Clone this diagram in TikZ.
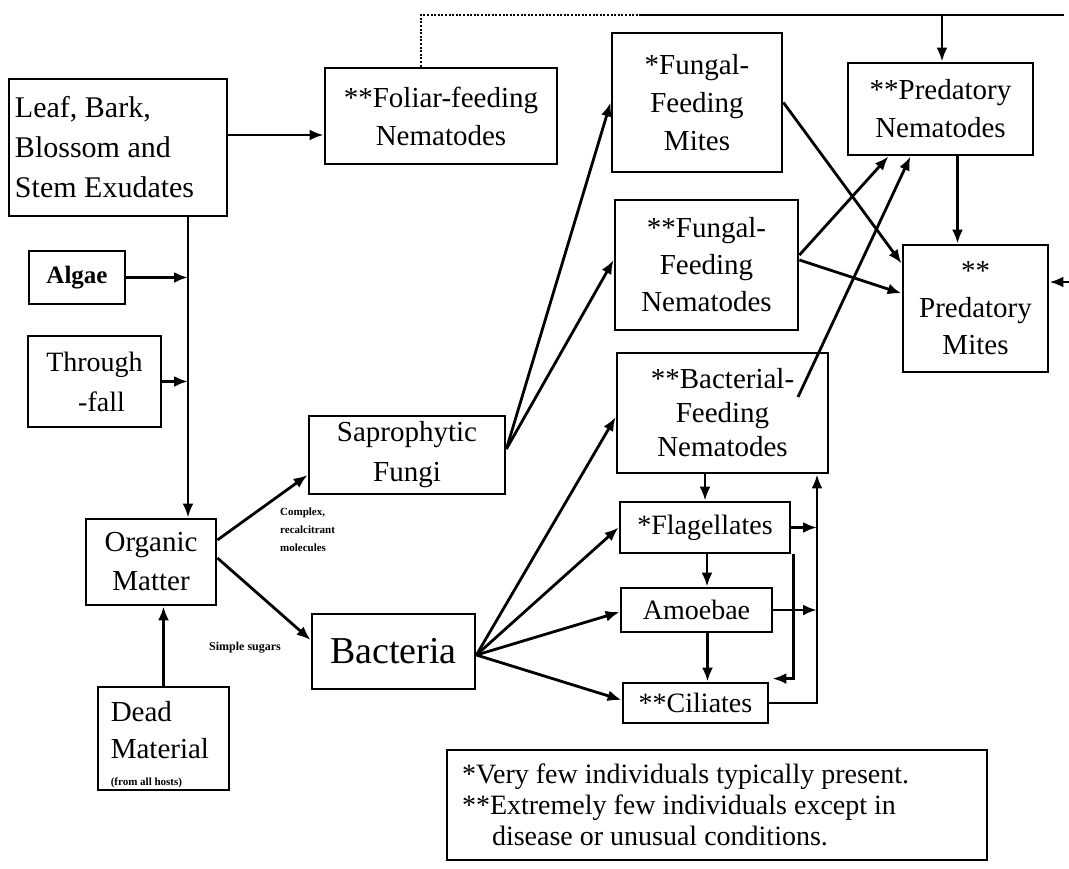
\documentclass[tikz,border=0pt]{standalone}
\usepackage{fontspec}
\setmainfont{Liberation Serif}
\usetikzlibrary{arrows.meta,calc}
\tikzset{
  box/.style={draw, line width=2.8pt, inner sep=3pt, align=center, font=\fontsize{29}{38}\selectfont},
  conn/.style={line width=2.8pt},
  arr/.style={conn, -{Latex[length=14pt,width=11pt]}},
  dotline/.style={line width=2pt, dash pattern=on 2pt off 1.6pt},
  tiny/.style={font=\bfseries\fontsize{11}{18}\selectfont, align=left, inner sep=0pt},
}
\begin{document}
\begin{tikzpicture}[x=1pt,y=-1pt]
\fill[white] (0,0) rectangle (1069,869);
\useasboundingbox (0,0) rectangle (1069,869);

% boxes
\node[box, align=flush left, text width=206pt, minimum width=218pt, minimum height=137pt, font=\fontsize{30}{40}\selectfont] (leaf) at (118,147.5) {Leaf, Bark,\\Blossom and\\Stem Exudates};
\node[box, minimum width=232pt, minimum height=96pt] (foliar) at (441,116) {**Foliar-feeding\\Nematodes};
\node[box, minimum width=170pt, minimum height=139pt] (ffm) at (697,102.5) {*Fungal-\\Feeding\\Mites};
\node[box, minimum width=185pt, minimum height=92pt] (pn) at (940.5,109) {**Predatory\\Nematodes};
\node[box, minimum width=96pt, minimum height=53pt, font=\bfseries\fontsize{25}{30}\selectfont] (algae) at (77,277.5) {Algae};
\node[box, minimum width=133pt, minimum height=91pt, font=\fontsize{28}{40}\selectfont] (through) at (94.5,381.5) {Through\\\ \ -fall};
\node[box, minimum width=183pt, minimum height=130pt, font=\fontsize{29}{37}\selectfont] (ffn) at (706.5,265) {**Fungal-\\Feeding\\Nematodes};
\node[box, minimum width=145pt, minimum height=127pt, font=\fontsize{29}{37}\selectfont] (pm) at (975.5,308.5) {**\\Predatory\\Mites};
\node[box, minimum width=211pt, minimum height=120pt, font=\fontsize{29}{34}\selectfont] (bfn) at (722.5,413) {**Bacterial-\\Feeding\\Nematodes};
\node[box, minimum width=196pt, minimum height=78pt, font=\fontsize{29}{40}\selectfont] (sapro) at (407,455) {Saprophytic\\Fungi};
\node[box, minimum width=130pt, minimum height=86pt, font=\fontsize{29}{39}\selectfont] (om) at (151,562) {Organic\\Matter};
\node[box, minimum width=163pt, minimum height=75pt, font=\fontsize{38}{44}\selectfont] (bact) at (393.5,651.5) {Bacteria};
\node[box, minimum width=131pt, minimum height=103pt] (dm) at (163.5,738.5) {};
\node[anchor=north west, align=flush left, inner sep=0pt, font=\fontsize{29}{37}\selectfont] (dmtext) at ($(dm.north west)+(14,16)$) {Dead\\Material\\[-10pt]{\spaceskip=0pt\bfseries\fontsize{11}{14}\selectfont (from all hosts)}};
\node[box, minimum width=170pt, minimum height=51pt, font=\fontsize{28}{34}\selectfont] (flag) at (705,527.5) {*Flagellates};
\node[box, minimum width=151pt, minimum height=44pt, font=\fontsize{28}{34}\selectfont] (amoe) at (696.5,610) {Amoebae};
\node[box, minimum width=145pt, minimum height=40pt, font=\fontsize{28}{34}\selectfont] (cil) at (695.5,703) {**Ciliates};
\node[box, align=flush left, text width=510pt, minimum width=540pt, minimum height=110pt, font=\fontsize{28}{31}\selectfont] (legend) at (717,805) {*Very few individuals typically present.\\{}**Extremely few individuals except in\\\hspace*{30pt}disease or unusual conditions.};

% small labels
\node[tiny, anchor=west] (complex) at (280,530) {Complex,\\recalcitrant\\molecules};
\node[tiny, font=\bfseries\fontsize{12}{14}\selectfont] (sugars) at (245,648) {Simple sugars};

% helper coordinates
\coordinate (bus) at (188,0);
\coordinate (busR) at (817,0);
\coordinate (tl) at (421,15);
\coordinate (tm) at (640,15);
\coordinate (tj) at (942,15);
\coordinate (tr) at (1064,15);
\coordinate (rin) at (1069,282);
\coordinate (bfnin) at (798,397);
\coordinate (lf) at ($(foliar.west)+(0,19)$);
\coordinate (pnpm) at ($(pn.south)+(17,0)$);
\coordinate (flam) at ($(flag.south)+(2,0)$);
\coordinate (amci) at ($(amoe.south)+(11,0)$);
\coordinate (loopS) at ($(flag.south east)+(2,0)$);
\coordinate (loopE) at ($(cil.north east)+(3,-3)$);

% top feedback line
\draw[dotline] (foliar.north -| tl) -- (tl) -- (tm);
\draw[conn] (tm) -- (tr);
\draw[arr] (tj) -- (tj |- pn.north);
\draw[arr] (rin) -- (rin -| pm.east);

% leaf -> foliar
\draw[arr] (lf -| leaf.east) -- (lf);

% inputs to organic matter
\draw[arr] (leaf.south -| bus) -- (om.north -| bus);
\draw[arr] (algae.east) -- (algae.east -| bus);
\draw[arr] (through.east) -- (through.east -| bus);
\draw[arr] (dm.north) -- (dm.north |- om.south);

% organic matter -> decomposers
\draw[arr] ($(om.east)+(0,-22)$) -- ($(sapro.west)+(0,20)$);
\draw[arr] ($(om.east)+(0,-4)$) -- ($(bact.west)+(0,-11.5)$);

% fungi -> fungal feeders
\draw[arr] ($(sapro.east)+(0,-6)$) -- (ffm.west);
\draw[arr] ($(sapro.east)+(0,-6)$) -- ($(ffn.west)+(0,-5)$);

% bacteria -> bacterial feeders
\draw[arr] ($(bact.east)+(0,3.5)$) -- ($(bfn.west)+(0,4)$);
\draw[arr] ($(bact.east)+(0,3.5)$) -- (flag.west);
\draw[arr] ($(bact.east)+(0,3.5)$) -- ($(amoe.west)+(0,2)$);
\draw[arr] ($(bact.east)+(0,3.5)$) -- ($(cil.west)+(0,-3)$);

% to predators
\draw[arr] (ffm.east) -- ($(pm.west)+(0,-45)$);
\draw[arr] ($(ffn.east)+(0,-10)$) -- ($(pn.south)+(-52,0)$);
\draw[arr] ($(ffn.east)+(0,-5)$) -- ($(pm.west)+(0,-15)$);
\draw[arr] (bfnin) -- ($(pn.south)+(-30,0)$);
\draw[arr] (pnpm) -- (pnpm |- pm.north);

% protozoa chain
\draw[arr] (bfn.south -| flag.north) -- (flag.north);
\draw[arr] (flam) -- (flam |- amoe.north);
\draw[arr] (amci) -- (amci |- cil.north);
\draw[arr] (flag.east) -- (flag.east -| busR);
\draw[arr] (amoe.east) -- (amoe.east -| busR);
\draw[arr] (cil.east) -- (cil.east -| busR) -- (busR |- bfn.south);
\draw[arr] (loopS) |- (loopE);
\end{tikzpicture}
\end{document}
